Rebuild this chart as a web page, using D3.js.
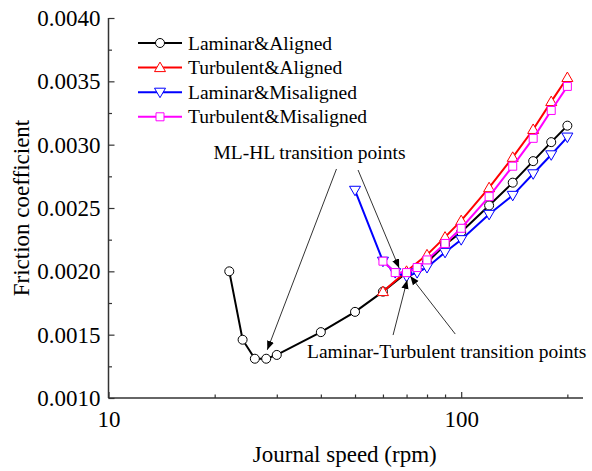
<!DOCTYPE html>
<html>
<head>
<meta charset="utf-8">
<script src="https://cdn.jsdelivr.net/npm/d3@7"></script>
<style>
  html, body { margin: 0; padding: 0; background: #fff; }
  svg text { font-family: 'Liberation Serif', 'Times New Roman', Times, 'DejaVu Serif', serif !important; }
</style>
</head>
<body>
<svg id="chart" width="592" height="471"></svg>
<script>
// ---------- data ----------
const seriesNames = ["Laminar&Aligned", "Turbulent&Aligned", "Laminar&Misaligned", "Turbulent&Misaligned"];

const laminarAlignedX = [22, 24, 26, 28, 30, 40, 50, 60, 70, 80, 90, 100, 120, 140, 160, 180, 200];
const laminarAlignedY = [0.00200, 0.00146, 0.00131, 0.00131, 0.00134, 0.00152, 0.00168, 0.00184, 0.00199, 0.00207, 0.00221, 0.00231, 0.00252, 0.00270, 0.00287, 0.00302, 0.00315];

const turbulentAlignedX = [60, 70, 80, 90, 100, 120, 140, 160, 180, 200];
const turbulentAlignedY = [0.00184, 0.00200, 0.00213, 0.00227, 0.00240, 0.00266, 0.00290, 0.00312, 0.00334, 0.00353];

const laminarMisalignedX = [50, 60, 65, 70, 75, 80, 90, 100, 120, 140, 160, 180, 200];
const laminarMisalignedY = [0.00264, 0.00208, 0.00199, 0.00196, 0.00199, 0.00203, 0.00215, 0.00225, 0.00245, 0.00260, 0.00277, 0.00292, 0.00306];

const turbulentMisalignedX = [60, 65, 70, 75, 80, 90, 100, 120, 140, 160, 180, 200];
const turbulentMisalignedY = [0.00208, 0.00199, 0.00199, 0.00203, 0.00209, 0.00222, 0.00234, 0.00259, 0.00283, 0.00305, 0.00327, 0.00346];

const xMajorTicks = [10, 100];
const xMinorTicks = [20, 30, 40, 50, 60, 70, 80, 90, 200];
const yMajorTicks = [0.0010, 0.0015, 0.0020, 0.0025, 0.0030, 0.0035, 0.0040];
const yMinorTicks = [0.00125, 0.00175, 0.00225, 0.00275, 0.00325, 0.00375];

const xTitle = "Journal speed (rpm)";
const yTitle = "Friction coefficient";

const annoMLHL = "ML-HL transition points";
const annoLT = "Laminar-Turbulent transition points";

// ---------- layout ----------
const FONT = "'Liberation Serif', 'Times New Roman', Times, 'DejaVu Serif', serif";
const svg = d3.select("#chart");
const L = 108.5, R = 583, T = 18, B = 398;
const x = d3.scaleLog().domain([10, 221.5]).range([L, R]);
const y = d3.scaleLinear().domain([0.0010, 0.0040]).range([B, T]);

const colors = ["#000000", "#ff0000", "#0000ff", "#ff00ff"];
const shapes = ["circle", "triUp", "triDown", "square"];
const series = [
  { x: laminarAlignedX, y: laminarAlignedY },
  { x: turbulentAlignedX, y: turbulentAlignedY },
  { x: laminarMisalignedX, y: laminarMisalignedY },
  { x: turbulentMisalignedX, y: turbulentMisalignedY }
];

function markerPath(shape) {
  switch (shape) {
    case "circle": return "M4.5,0A4.5,4.5 0 1,1 -4.5,0A4.5,4.5 0 1,1 4.5,0Z";
    case "triUp": return "M0,-5.5L5.5,4L-5.5,4Z";
    case "triDown": return "M0,5.5L5.5,-4L-5.5,-4Z";
    case "square": return "M-4,-4L4,-4L4,4L-4,4Z";
  }
}

// ---------- axes ----------
const axisColor = "#333";
const xAxis = d3.axisBottom(x).tickValues(xMajorTicks).tickFormat(d3.format("d")).tickSize(-6).tickPadding(13);
const gx = svg.append("g").attr("transform", `translate(0,${B})`).call(xAxis);
gx.attr("font-family", null);
gx.select(".domain").attr("stroke", axisColor).attr("stroke-width", 1.5).attr("d", `M${L},0H${R}`);
gx.selectAll(".tick line").attr("stroke", axisColor).attr("stroke-width", 1.2);
gx.selectAll(".tick text").attr("font-size", 23).attr("fill", "#000").style("font-family", FONT);

const xAxisMinor = d3.axisBottom(x).tickValues(xMinorTicks).tickFormat("").tickSize(-3.5);
const gxm = svg.append("g").attr("transform", `translate(0,${B})`).call(xAxisMinor);
gxm.select(".domain").remove();
gxm.selectAll(".tick line").attr("stroke", axisColor).attr("stroke-width", 1.2);

const yAxis = d3.axisLeft(y).tickValues(yMajorTicks).tickFormat(d3.format(".4f")).tickSize(-6).tickPadding(8);
const gy = svg.append("g").attr("transform", `translate(${L},0)`).call(yAxis);
gy.attr("font-family", null);
gy.select(".domain").attr("stroke", axisColor).attr("stroke-width", 1.5).attr("d", `M0,${T}V${B}`);
gy.selectAll(".tick line").attr("stroke", axisColor).attr("stroke-width", 1.2);
gy.selectAll(".tick text").attr("font-size", 23).attr("fill", "#000").style("font-family", FONT);

const yAxisMinor = d3.axisLeft(y).tickValues(yMinorTicks).tickFormat("").tickSize(-3.5);
const gym = svg.append("g").attr("transform", `translate(${L},0)`).call(yAxisMinor);
gym.select(".domain").remove();
gym.selectAll(".tick line").attr("stroke", axisColor).attr("stroke-width", 1.2);

svg.append("text").attr("x", (L + R) / 2 - 1).attr("y", 462).attr("text-anchor", "middle")
  .attr("font-size", 23).style("font-family", FONT).text(xTitle);
svg.append("text").attr("transform", `translate(29,${(T + B) / 2}) rotate(-90)`).attr("text-anchor", "middle")
  .attr("font-size", 23).style("font-family", FONT).text(yTitle);

// ---------- series ----------
const line = d3.line().x(d => x(d[0])).y(d => y(d[1]));
series.forEach((s, i) => {
  const pts = s.x.map((v, k) => [v, s.y[k]]);
  const g = svg.append("g");
  g.append("path").datum(pts).attr("d", line).attr("fill", "none")
    .attr("stroke", colors[i]).attr("stroke-width", 2);
  g.selectAll("path.m").data(pts).enter().append("path").attr("class", "m")
    .attr("d", markerPath(shapes[i]))
    .attr("transform", d => `translate(${x(d[0])},${y(d[1])})`)
    .attr("fill", "#fff").attr("stroke", colors[i]).attr("stroke-width", 1);
});

// ---------- legend ----------
const legY0 = 43, legDY = 24.6;
seriesNames.forEach((name, i) => {
  const yy = legY0 + i * legDY;
  svg.append("line").attr("x1", 138).attr("x2", 182).attr("y1", yy).attr("y2", yy)
    .attr("stroke", colors[i]).attr("stroke-width", 2);
  svg.append("path").attr("d", markerPath(shapes[i])).attr("transform", `translate(160,${yy})`)
    .attr("fill", "#fff").attr("stroke", colors[i]).attr("stroke-width", 1);
  svg.append("text").attr("x", 188).attr("y", yy + 6.5).attr("font-size", 19.5)
    .style("font-family", FONT).text(name);
});

// ---------- annotations ----------
const defs = svg.append("defs");
defs.append("marker").attr("id", "arrow").attr("viewBox", "0 0 10 10").attr("refX", 10).attr("refY", 5)
  .attr("markerWidth", 9).attr("markerHeight", 9).attr("markerUnits", "userSpaceOnUse")
  .attr("orient", "auto")
  .append("path").attr("d", "M0,1L10,5L0,9Z").attr("fill", "#000");

const arrows = [
  { from: [44.3, 0.002808], to: [28.2, 0.00138] },
  { from: [51.0, 0.002800], to: [66.7, 0.002026] },
  { from: [64.1, 0.001497], to: [70.3, 0.001932] },
  { from: [96.2, 0.001505], to: [71.7, 0.001963] }
];
arrows.forEach(a => {
  svg.append("line").attr("x1", x(a.from[0])).attr("y1", y(a.from[1]))
    .attr("x2", x(a.to[0])).attr("y2", y(a.to[1]))
    .attr("stroke", "#333").attr("stroke-width", 1).attr("marker-end", "url(#arrow)");
});

svg.append("text").attr("x", 309.5).attr("y", 159).attr("text-anchor", "middle")
  .attr("font-size", 19.5).style("font-family", FONT).text(annoMLHL);
svg.append("text").attr("x", 307).attr("y", 358).attr("font-size", 19.5)
  .style("font-family", FONT).text(annoLT);
</script>
</body>
</html>
